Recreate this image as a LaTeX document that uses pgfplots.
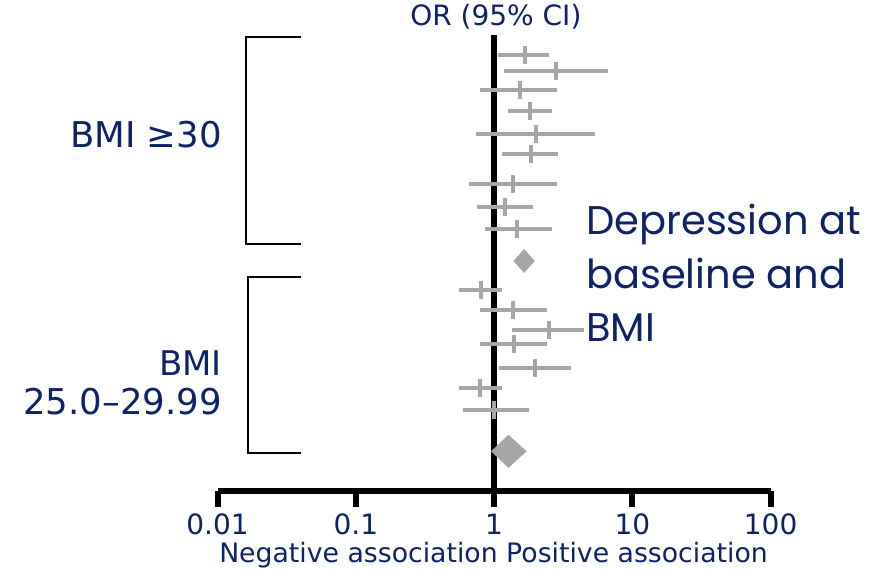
\documentclass[border=0pt]{standalone}
\usepackage{fontspec}
\setmainfont{DejaVu Sans}
\newfontfamily\gothic{Poppins}
\usepackage{pgfplots}
\usepackage{pgfplotstable}
\pgfplotsset{compat=1.18}
\definecolor{navy}{RGB}{14,34,104}
\definecolor{cigray}{RGB}{166,166,166}

% y = row position (picture units), lo / or / hi = OR and 95% CI
\pgfplotstableread{
y     lo    or    hi
513.7 1.06  1.66  2.50
498.3 1.17  2.79  6.70
479.0 0.79  1.53  2.84
458.0 1.26  1.82  2.61
434.7 0.74  2.00  5.40
415.0 1.14  1.85  2.90
385.0 0.66  1.36  2.84
361.7 0.75  1.19  1.92
340.0 0.86  1.47  2.61
278.7 0.56  0.81  1.14
259.0 0.79  1.38  2.40
239.0 1.35  2.50  4.47
225.3 0.79  1.39  2.40
201.0 1.09  1.96  3.62
180.7 0.56  0.79  1.14
158.7 0.60  1.00  1.80
}\studies

\begin{document}
\begin{tikzpicture}
\begin{axis}[
    scale only axis,
    width=553pt, height=456pt,
    xmode=log,
    xmin=0.01, xmax=100,
    ymin=78, ymax=534,
    axis y line=none,
    axis x line*=bottom,
    x axis line style={line width=6pt, -},
    xtick={0.01,0.1,1,10,100},
    xticklabels={0.01,0.1,1,10,100},
    xminorticks=false,
    xtick align=outside,
    major tick length=16pt,
    x tick style={line width=6pt, black},
    xticklabel style={font=\fontsize{28}{30}\selectfont, text=navy, anchor=base, inner sep=0pt, yshift=-27pt},
    /pgf/number format/assume math mode=true,
    clip=false,
]
% invisible frame that sets the picture size
\path (axis cs:2.667e-4,0) rectangle (axis cs:660.9,569);

% reference line at OR = 1
\addplot[black, line width=6pt, forget plot] coordinates {(1,78) (1,534)};

% confidence intervals
\addplot[cigray, line width=4pt, draw=none, forget plot,
    error bars/.cd, x dir=both, x explicit,
    error bar style={line width=4pt, cigray}, error mark=none]
    table[x=or, y=y,
      x error plus expr=\thisrow{hi}-\thisrow{or},
      x error minus expr=\thisrow{or}-\thisrow{lo}] {\studies};

% point estimates
\addplot[only marks, mark=|, mark size=9pt, cigray,
    mark options={line width=4pt}] table[x=or, y=y] {\studies};

% pooled estimates
\addplot[fill=cigray, draw=none] coordinates {(1.38,308) (1.65,320) (1.97,308) (1.65,296)} --cycle;
\addplot[fill=cigray, draw=none] coordinates {(0.95,117.7) (1.27,134.2) (1.72,117.7) (1.27,101.2)} --cycle;

% brackets
\draw[line width=2pt] (axis cs:0.03991,532.3) -- (axis cs:0.01605,532.3)
    -- (axis cs:0.01605,325) -- (axis cs:0.03991,325);
\draw[line width=2pt] (axis cs:0.03991,292) -- (axis cs:0.01660,292)
    -- (axis cs:0.01660,116) -- (axis cs:0.03991,116);

% labels
\node[anchor=base east, inner sep=0pt, text=navy, font=\fontsize{35.5}{40}\selectfont]
    at (axis cs:0.01076,421.7) {BMI ≥30};
\node[anchor=base east, inner sep=0pt, text=navy, font=\fontsize{34}{38}\selectfont]
    at (axis cs:0.01076,193.3) {BMI};
\node[anchor=base east, inner sep=0pt, text=navy, font=\fontsize{35.5}{38}\selectfont]
    at (axis cs:0.01076,155) {25.0–29.99};
\node[anchor=base west, inner sep=0pt, text=navy, font=\gothic\fontsize{40}{44}\selectfont]
    at (axis cs:4.62,334) {Depression at};
\node[anchor=base west, inner sep=0pt, text=navy, font=\gothic\fontsize{40}{44}\selectfont]
    at (axis cs:4.62,280) {baseline and};
\node[anchor=base west, inner sep=0pt, text=navy, font=\gothic\fontsize{40}{44}\selectfont]
    at (axis cs:4.62,227.3) {BMI};
\node[anchor=base, inner sep=0pt, text=navy, font=\fontsize{28}{30}\selectfont]
    at (axis cs:1.03,543) {OR (95\% CI)};
\node[anchor=base, inner sep=0pt, text=navy, font=\fontsize{26.7}{30}\selectfont]
    at (axis cs:0.99,7) {Negative association Positive association};
\end{axis}
\end{tikzpicture}
\end{document}
